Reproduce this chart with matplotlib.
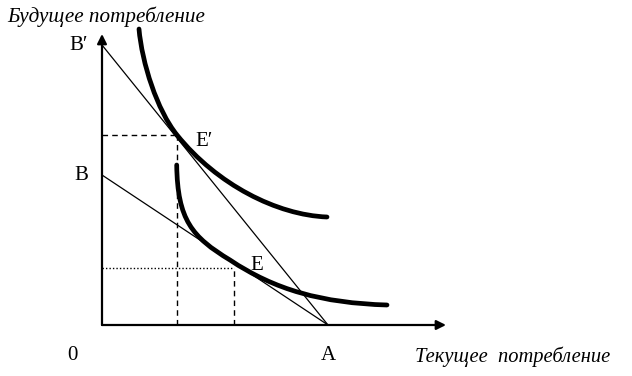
"""Intertemporal choice diagram: budget lines and indifference curves."""

import matplotlib.pyplot as plt
from matplotlib.patches import PathPatch
from matplotlib.path import Path

# budget line endpoints (x = current consumption, y = future consumption)
point_a = (226, 0)
point_b = (0, 150)
point_b_prime = (0, 280)

# optimum points
point_e = (132, 57)
point_e_prime = (75, 190)

# indifference curves as cubic Bezier control points (two segments each)
upper_curve = [(37, 296), (40, 262), (55, 214.8), (75, 190),
               (115, 140.4), (175, 110), (225, 108)]
lower_curve = [(74.7, 160), (75.5, 105), (90, 88), (128, 65),
               (173, 35), (220, 22), (285, 20)]

fig = plt.figure(figsize=(6.32, 3.76), dpi=100)
ax = fig.add_axes([0, 0, 1, 1])
ax.set_xlim(-102, 530)
ax.set_ylim(-51, 325)
ax.axis("off")

serif = ["Liberation Serif", "DejaVu Serif"]

# coordinate axes with arrows
ax.annotate("", xy=(0, 291), xytext=(0, 0),
            arrowprops=dict(arrowstyle="-|>", color="black", lw=1.6,
                            mutation_scale=14, shrinkA=0, shrinkB=0))
ax.annotate("", xy=(344, 0), xytext=(0, 0),
            arrowprops=dict(arrowstyle="-|>", color="black", lw=1.6,
                            mutation_scale=14, shrinkA=0, shrinkB=0))

# budget lines
ax.plot([point_b_prime[0], point_a[0]], [point_b_prime[1], point_a[1]], color="black", lw=0.9)
ax.plot([point_b[0], point_a[0]], [point_b[1], point_a[1]], color="black", lw=0.9)

# indifference curves
codes = [Path.MOVETO] + [Path.CURVE4] * 6
for pts in (upper_curve, lower_curve):
    ax.add_patch(PathPatch(Path(pts, codes), fill=False, edgecolor="black",
                           lw=3.4, capstyle="round"))

# guide lines
dash = (0, (4, 3))
ax.plot([0, point_e_prime[0]], [point_e_prime[1], point_e_prime[1]], color="black", lw=1, ls=dash)
ax.plot([point_e_prime[0], point_e_prime[0]], [0, point_e_prime[1]], color="black", lw=1, ls=dash)
ax.plot([0, point_e[0]], [point_e[1], point_e[1]], color="black", lw=1, ls=(0, (1, 1.5)))
ax.plot([point_e[0], point_e[0]], [0, point_e[1]], color="black", lw=1, ls=dash)

# labels
ax.text(-14, point_b_prime[1], "B\u2032", fontsize=15, family=serif, ha="right", va="center")
ax.text(-14, point_b[1], "B", fontsize=15, family=serif, ha="right", va="center")
ax.text(-30, -30, "0", fontsize=15, family=serif, ha="center", va="center")
ax.text(point_a[0], -30, "A", fontsize=15, family=serif, ha="center", va="center")
ax.text(point_e_prime[0] + 18, point_e_prime[1] - 7, "E\u2032", fontsize=15, family=serif, va="center")
ax.text(point_e[0] + 16, point_e[1] + 2, "E", fontsize=15, family=serif, va="center")

ax.text(-95, 308, "Будущее потребление", fontsize=15.2, family=serif, style="italic", va="center")
ax.text(313, -32, "Текущее  потребление", fontsize=14.8, family=serif, style="italic", va="center")

fig.savefig("out.png", dpi=100)
plt.close(fig)
